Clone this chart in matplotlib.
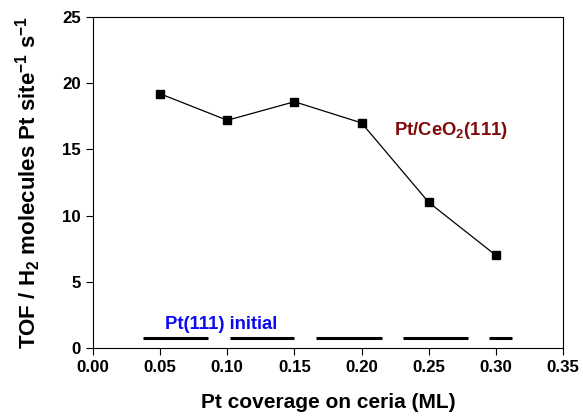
import numpy as np
import matplotlib.pyplot as plt

plt.rcParams.update({
    'font.family': ['Liberation Sans', 'DejaVu Sans'],
    'font.weight': 'bold',
    'font.size': 12.2,
    'mathtext.fontset': 'custom',
    'mathtext.rm': 'Liberation Sans:bold',
    'mathtext.bf': 'Liberation Sans:bold',
})

# Pt/CeO2(111) data
coverage = [0.05, 0.10, 0.15, 0.20, 0.25, 0.30]
tof = [19.2, 17.2, 18.6, 17.0, 11.0, 7.0]

# Pt(111) initial reference level (drawn as dashes)
pt111_level = 0.75
dash_start = [0.037, 0.102, 0.166, 0.231, 0.295]
dash_end = [0.086, 0.150, 0.215, 0.279, 0.312]

fig = plt.figure(figsize=(5.83, 4.18), dpi=100)
ax = fig.add_axes([93/583, 1 - 348/418, 470/583, 331/418])

ax.plot(coverage, tof, color='black', linewidth=0.9, marker='s',
        markersize=5.5, markerfacecolor='black', markeredgecolor='black')
ax.hlines([pt111_level] * len(dash_start), dash_start, dash_end,
          color='black', linewidth=2.2)

ax.text(0.0953, 1.75, 'Pt(111) initial', color='#0a0af0', ha='center',
        va='center', fontsize=13.3, fontweight='bold')
ax.text(0.2245, 16.4, 'Pt/CeO$_2$(111)', color='#800a0a', ha='left',
        va='center', fontsize=13.3, fontweight='bold')

ax.set_xlim(0, 0.35)
ax.set_ylim(0, 25)
ax.set_xticks(np.arange(0, 0.351, 0.05))
ax.set_xticklabels([f'{v:.2f}' for v in np.arange(0, 0.351, 0.05)])
ax.set_yticks([0, 5, 10, 15, 20, 25])
ax.tick_params(direction='out', length=5, width=0.8, top=False, right=False)
for s in ax.spines.values():
    s.set_linewidth(0.8)

ax.set_xlabel('Pt coverage on ceria (ML)', fontsize=15, fontweight='bold', labelpad=13)
ax.set_ylabel('TOF / H$_2$ molecules Pt site$^{-1}$ s$^{-1}$', fontsize=16,
              fontweight='bold', labelpad=14)

fig.savefig('out.png', dpi=100)
